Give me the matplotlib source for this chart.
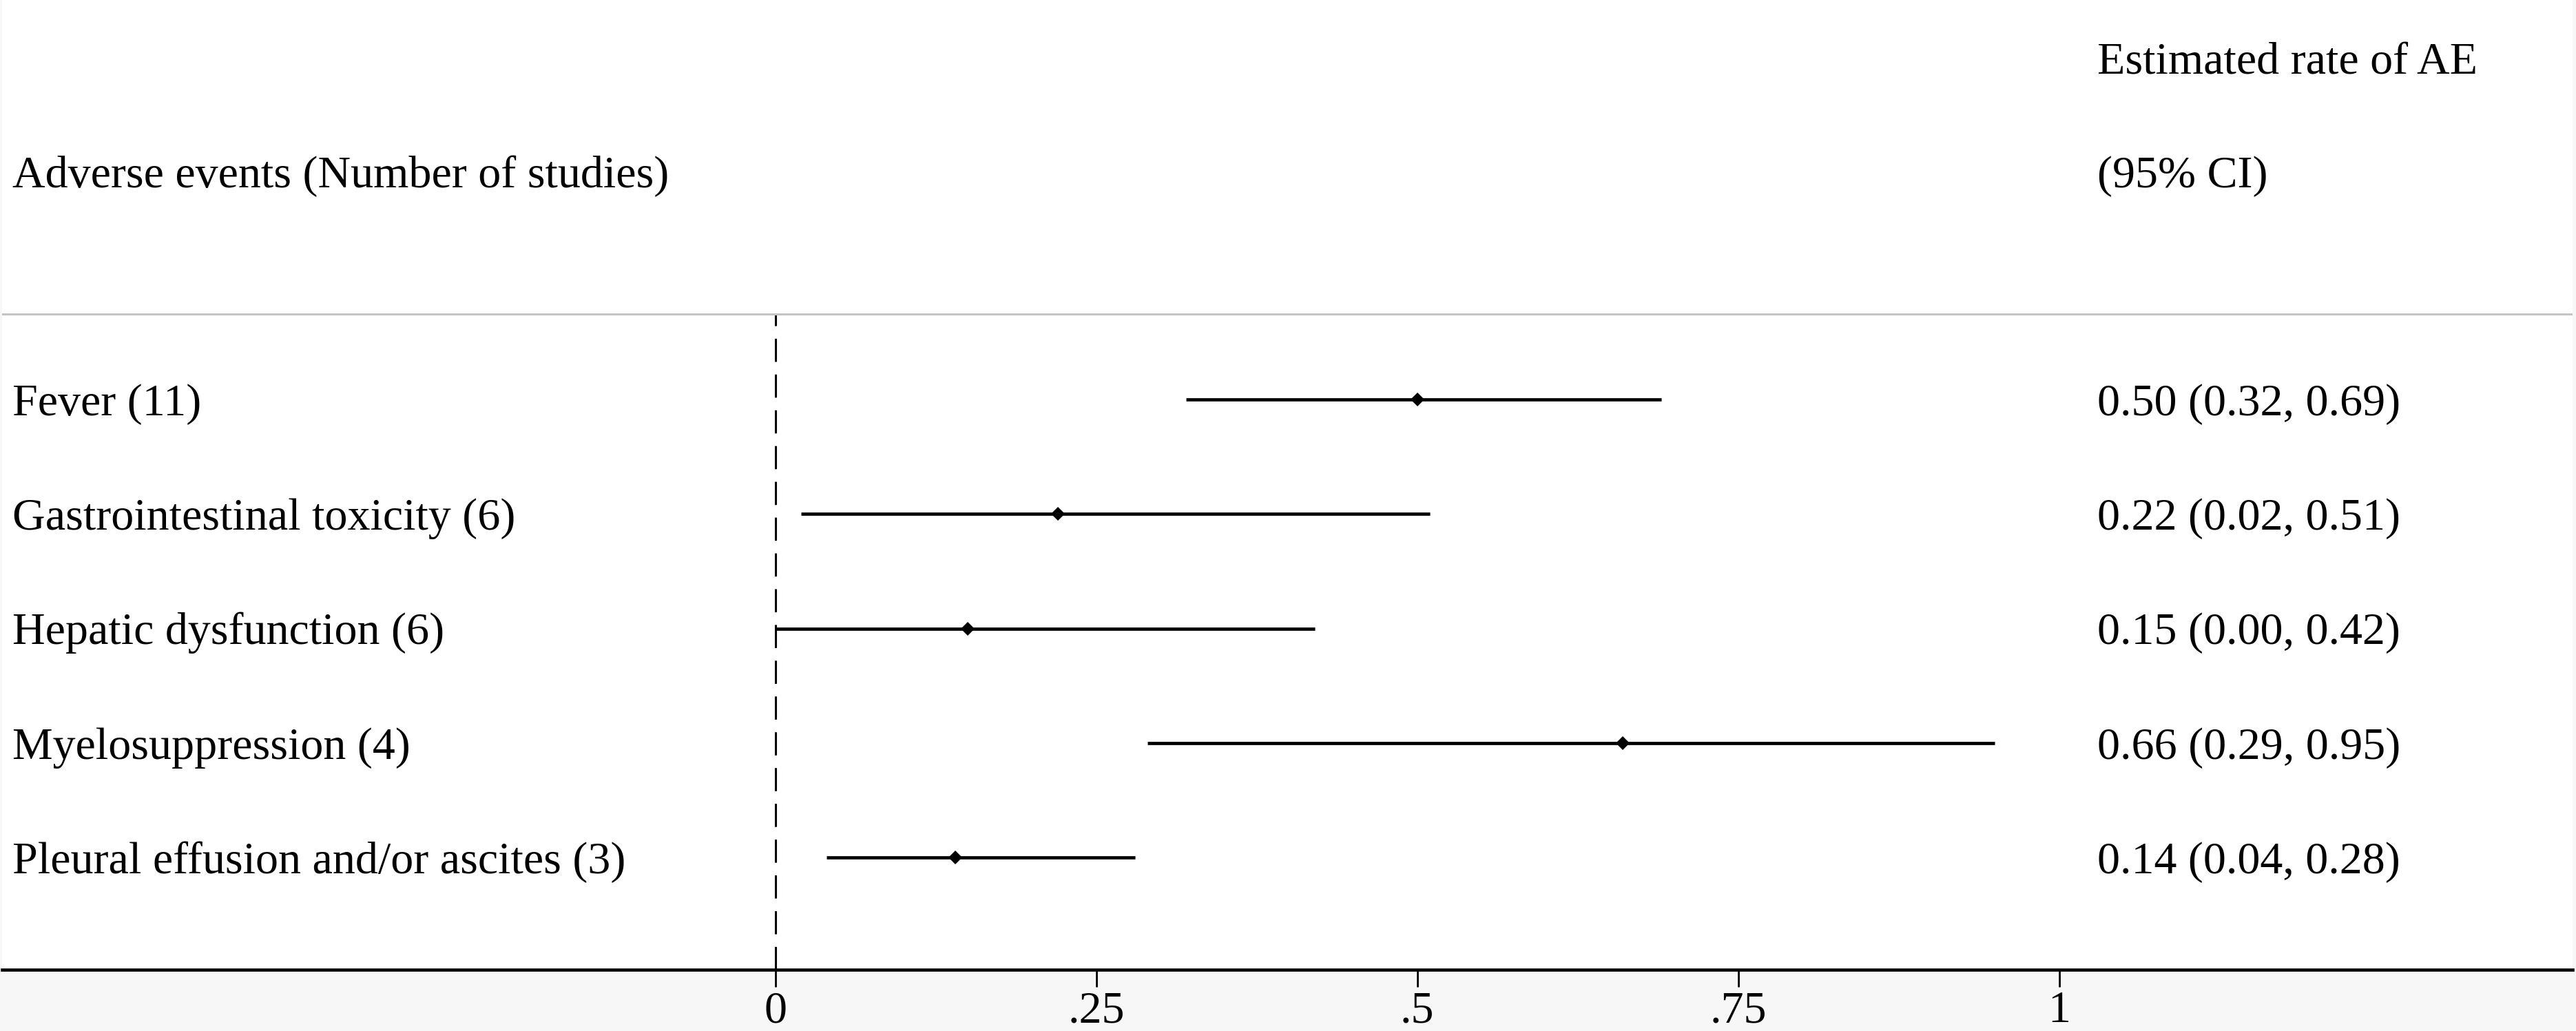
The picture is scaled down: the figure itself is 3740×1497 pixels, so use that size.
import matplotlib
matplotlib.use("Agg")
import matplotlib.pyplot as plt
import numpy as np

# data
events = ["Fever", "Gastrointestinal toxicity", "Hepatic dysfunction",
          "Myelosuppression", "Pleural effusion and/or ascites"]
n_studies = [11, 6, 6, 4, 3]
rate = [0.50, 0.22, 0.15, 0.66, 0.14]
lower = [0.32, 0.02, 0.00, 0.29, 0.04]
upper = [0.69, 0.51, 0.42, 0.95, 0.28]
xticks = [0, 0.25, 0.5, 0.75, 1]
xticklabels = ["0", ".25", ".5", ".75", "1"]

plt.rcParams['font.family'] = ['Liberation Serif', 'DejaVu Serif']
fs = 47.5

W, H = 3740, 1497
fig = plt.figure(figsize=(W / 100, H / 100), dpi=100, facecolor="#f7f7f7")
# axes spans almost the full width; its bottom spine is the x axis
ax = fig.add_axes([3 / W, (H - 1408) / H, 3732 / W, 1408 / H])
ax.set_facecolor("white")

ax.set_xlim(-0.6025, 1.40)
ax.set_ylim(0.0195, 8.489)

ypos = np.arange(len(events), 0, -1)
base = 0.138  # baseline sits a bit below the row line

ax.plot([0, 0], [ax.get_ylim()[0], 5.746], color="black", lw=2.2,
        dashes=(11, 6), zorder=1)
ax.axhline(5.746, color="#c4c4c4", lw=2.2, zorder=1)

for y, r, lo, hi in zip(ypos, rate, lower, upper):
    ax.plot([lo, hi], [y, y], color="black", lw=3.4, solid_capstyle="butt", zorder=2)
    ax.plot(r, y, marker="D", ms=10.5, mew=0, color="black", zorder=3)

tr = ax.get_yaxis_transform()
for y, ev, n, r, lo, hi in zip(ypos, events, n_studies, rate, lower, upper):
    ax.text(0.004, y - base, f"{ev} ({n})", transform=tr, fontsize=fs,
            va="baseline", ha="left")
    ax.text(0.815, y - base, f"{r:.2f} ({lo:.2f}, {hi:.2f})", transform=tr,
            fontsize=fs, va="baseline", ha="left")

ax.text(0.004, 6.853, "Adverse events (Number of studies)", transform=tr,
        fontsize=fs, va="baseline", ha="left")
ax.text(0.815, 7.84, "Estimated rate of AE", transform=tr,
        fontsize=fs, va="baseline", ha="left")
ax.text(0.815, 6.853, "(95% CI)", transform=tr, fontsize=fs,
        va="baseline", ha="left")

for s in ["top", "left", "right"]:
    ax.spines[s].set_visible(False)
ax.spines["bottom"].set_linewidth(3.3)
ax.set_yticks([])
ax.set_xticks(xticks)
ax.set_xticklabels(xticklabels, fontsize=fs)
ax.tick_params(axis="x", length=18, width=2, pad=4)

fig.savefig("out.png", dpi=100, facecolor=fig.get_facecolor())
